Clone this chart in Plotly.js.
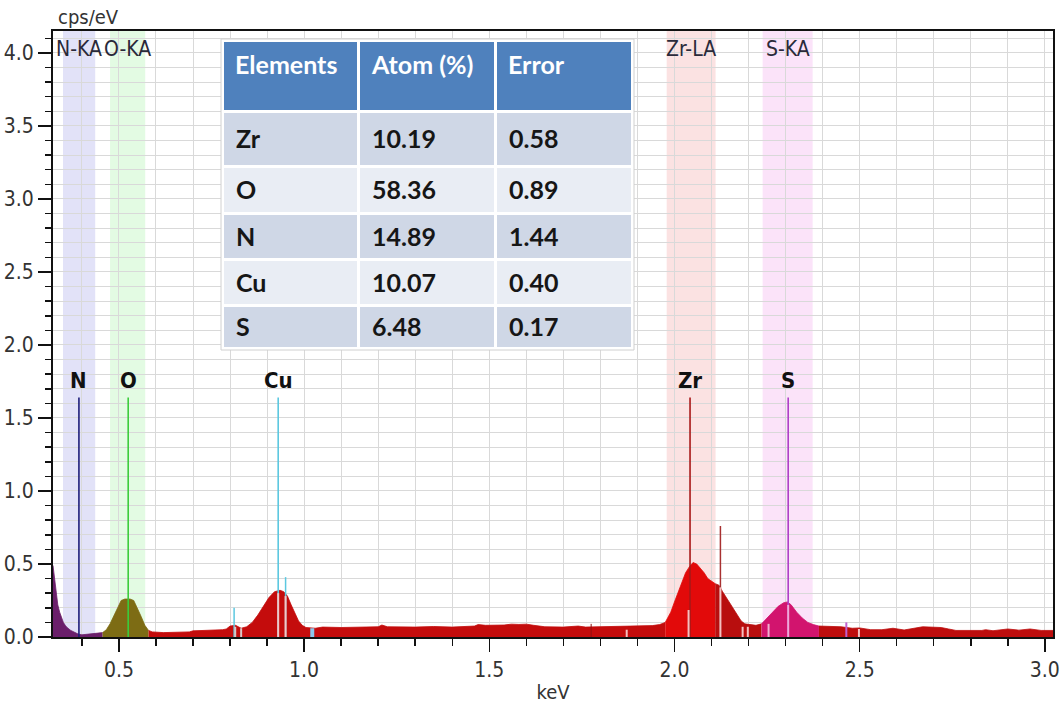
<!DOCTYPE html>
<html>
<head>
<meta charset="utf-8">
<script src="https://cdn.plot.ly/plotly-3.0.1.min.js"></script>
<style>
  html, body { margin: 0; padding: 0; background: #ffffff; }
  #chart { width: 1062px; height: 704px; }
</style>
</head>
<body>
<div id="chart"></div>
<script>
// EDS spectrum: energy (keV) and intensity (cps/eV)
const energy = [
  0.322, 0.326, 0.330, 0.335, 0.340, 0.345, 0.350, 0.355, 0.360, 0.370,
  0.380, 0.390, 0.400, 0.420, 0.440, 0.456, 0.466, 0.476, 0.486, 0.496,
  0.506, 0.516, 0.530, 0.540, 0.550, 0.560, 0.570, 0.580, 0.590, 0.620,
  0.660, 0.690, 0.700, 0.740, 0.760, 0.780, 0.790, 0.800, 0.815, 0.830,
  0.845, 0.860, 0.875, 0.890, 0.905, 0.920, 0.935, 0.945, 0.955, 0.965,
  0.975, 0.985, 0.995, 1.005, 1.030, 1.050, 1.100, 1.150, 1.200, 1.210,
  1.225, 1.300, 1.350, 1.400, 1.460, 1.470, 1.490, 1.540, 1.560, 1.580,
  1.600, 1.620, 1.650, 1.700, 1.740, 1.760, 1.850, 1.870, 1.900, 1.940,
  1.960, 1.975, 1.990, 2.000, 2.010, 2.020, 2.030, 2.040, 2.050, 2.060,
  2.070, 2.080, 2.090, 2.100, 2.110, 2.120, 2.130, 2.140, 2.150, 2.160,
  2.170, 2.180, 2.190, 2.200, 2.220, 2.235, 2.250, 2.265, 2.280, 2.295,
  2.305, 2.315, 2.330, 2.345, 2.360, 2.375, 2.390, 2.420, 2.450, 2.480,
  2.500, 2.530, 2.560, 2.590, 2.620, 2.670, 2.720, 2.740, 2.760, 2.830,
  2.840, 2.860, 2.900, 2.930, 2.960, 2.990, 3.022
];
const counts = [
  0.490, 0.400, 0.300, 0.220, 0.170, 0.130, 0.100, 0.080, 0.065, 0.045,
  0.030, 0.020, 0.015, 0.020, 0.025, 0.030, 0.050, 0.090, 0.140, 0.200,
  0.250, 0.260, 0.260, 0.250, 0.200, 0.140, 0.080, 0.045, 0.035, 0.030,
  0.032, 0.035, 0.042, 0.045, 0.050, 0.050, 0.055, 0.075, 0.080, 0.060,
  0.070, 0.100, 0.150, 0.210, 0.270, 0.310, 0.320, 0.310, 0.280, 0.220,
  0.160, 0.110, 0.080, 0.065, 0.060, 0.068, 0.065, 0.068, 0.070, 0.082,
  0.070, 0.068, 0.072, 0.068, 0.075, 0.085, 0.080, 0.082, 0.088, 0.086,
  0.088, 0.080, 0.070, 0.068, 0.075, 0.068, 0.072, 0.070, 0.075, 0.078,
  0.085, 0.100, 0.170, 0.240, 0.310, 0.380, 0.440, 0.480, 0.510, 0.500,
  0.470, 0.440, 0.400, 0.380, 0.365, 0.355, 0.310, 0.270, 0.230, 0.190,
  0.150, 0.110, 0.090, 0.085, 0.080, 0.090, 0.130, 0.170, 0.210, 0.235,
  0.240, 0.220, 0.170, 0.130, 0.100, 0.085, 0.075, 0.072, 0.070, 0.060,
  0.062, 0.050, 0.050, 0.060, 0.048, 0.070, 0.065, 0.055, 0.045, 0.045,
  0.050, 0.043, 0.055, 0.047, 0.055, 0.045, 0.045
];

// Colour zones of the filled spectrum (boundaries in keV)
const zoneBreaks = [0.322, 0.456, 0.580, 1.975, 2.110, 2.235, 2.390, 3.022];
const zoneColors = ['#6b1f6b', '#7d6c14', '#c40c0c', '#e20a0a', '#b80e0e', '#d2146e', '#bd0d0d'];

// Element windows shaded behind the spectrum
const bandNames = ['N-KA', 'O-KA', 'Zr-LA', 'S-KA'];
const bandStart = [0.349, 0.476, 1.979, 2.238];
const bandEnd   = [0.436, 0.571, 2.111, 2.373];
const bandColors = ['#e2e2f8', '#e3fbe3', '#fbe2e2', '#fbe3f9'];

// Element identification lines
const lineElements = ['N', 'O', 'Cu', 'Zr', 'S'];
const lineEnergy = [0.392, 0.525, 0.930, 2.042, 2.307];
const lineHeight = 1.64;
const lineColors = ['#1c1c7a', '#3ccc3c', '#5cc8e0', '#a81818', '#b040c8'];

// Minor family lines
const minorEnergy = [0.950, 0.811, 1.022, 2.124, 2.464, 1.775];
const minorHeight = [0.41, 0.20, 0.06, 0.76, 0.10, 0.09];
const minorColors = ['#5cc8e0', '#5cc8e0', '#8cc8ec', '#a83030', '#c060d0', '#901010'];
const minorWidths = [1.5, 1.5, 4, 1.5, 2, 1];

// Pale segments where lines cross the filled spectrum
const paleEnergy = [0.930, 0.950, 0.814, 0.830, 2.038, 2.124, 2.184, 2.198, 2.254, 2.307, 1.871, 2.498];
const paleHeight = [0.30, 0.28, 0.07, 0.06, 0.185, 0.34, 0.07, 0.07, 0.09, 0.22, 0.05, 0.055];
const paleColors = ['#f2c8c8', '#f2c8c8', '#d8c8c8', '#d8c8c8', '#f4c0c0', '#f4c0c0', '#f4c0c0', '#f4c0c0', '#f0b0d0', '#f0a8d8', '#f4c0c0', '#f4c0c0'];

// Quantification table
const tableHeader = ['Elements', 'Atom (%)', 'Error'];
const tableElements = ['Zr', 'O', 'N', 'Cu', 'S'];
const tableAtom = ['10.19', '58.36', '14.89', '10.07', '6.48'];
const tableError = ['0.58', '0.89', '1.44', '0.40', '0.17'];

const xTickVals = [0.5, 1.0, 1.5, 2.0, 2.5, 3.0];
const yTickVals = [0.0, 0.5, 1.0, 1.5, 2.0, 2.5, 3.0, 3.5, 4.0];

const narrow = 'Liberation Sans Narrow, DejaVu Sans Condensed, Arial Narrow, sans-serif';

// --- plot geometry (pixels) used for the overlay table ---
const W = 1062, H = 704;
const M = { l: 53, r: 9, t: 31, b: 67 };
const plotW = W - M.l - M.r, plotH = H - M.t - M.b;
const px = x => (x - M.l) / plotW;
const py = y => (H - M.b - y) / plotH;

const traces = [];

// filled spectrum, one trace per colour zone
for (let z = 0; z < zoneColors.length; z++) {
  const xs = [], ys = [];
  for (let i = 0; i < energy.length; i++) {
    if (energy[i] >= zoneBreaks[z] - 1e-9 && energy[i] <= zoneBreaks[z + 1] + 1e-9) {
      xs.push(energy[i]); ys.push(counts[i]);
    }
  }
  traces.push({
    type: 'scatter', mode: 'lines', x: xs, y: ys,
    fill: 'tozeroy', fillcolor: zoneColors[z],
    line: { color: zoneColors[z], width: 0.8 },
    hoverinfo: 'skip', showlegend: false
  });
}

// element lines
lineEnergy.forEach((e, i) => {
  traces.push({
    type: 'scatter', mode: 'lines', x: [e, e], y: [0, lineHeight],
    line: { color: lineColors[i], width: 1.6 },
    hoverinfo: 'skip', showlegend: false
  });
});
minorEnergy.forEach((e, i) => {
  traces.push({
    type: 'scatter', mode: 'lines', x: [e, e], y: [0, minorHeight[i]],
    line: { color: minorColors[i], width: minorWidths[i] },
    hoverinfo: 'skip', showlegend: false
  });
});
paleEnergy.forEach((e, i) => {
  traces.push({
    type: 'scatter', mode: 'lines', x: [e, e], y: [0, paleHeight[i]],
    line: { color: paleColors[i], width: 2 },
    hoverinfo: 'skip', showlegend: false
  });
});

const shapes = [];
const annotations = [];

// shaded element windows
bandNames.forEach((name, i) => {
  shapes.push({
    type: 'rect', xref: 'x', yref: 'paper', layer: 'below',
    x0: bandStart[i], x1: bandEnd[i], y0: 0, y1: 1,
    fillcolor: bandColors[i], line: { width: 0 }
  });
  annotations.push({
    xref: 'x', yref: 'paper', x: (bandStart[i] + bandEnd[i]) / 2, y: 1,
    yanchor: 'top', yshift: -4, showarrow: false, text: name,
    font: { family: narrow, size: 21, color: '#2a2a3a' }
  });
});

// element labels above the lines
lineElements.forEach((el, i) => {
  annotations.push({
    xref: 'x', yref: 'y', x: lineEnergy[i], y: lineHeight,
    yanchor: 'bottom', yshift: 3, showarrow: false, text: '<b>' + el + '</b>',
    font: { family: narrow, size: 22, color: '#111111' }
  });
});

// unit label above the y axis
annotations.push({
  xref: 'paper', yref: 'paper', x: px(88), y: py(17), xanchor: 'center', yanchor: 'middle',
  showarrow: false, text: 'cps/eV', font: { family: narrow, size: 20, color: '#333333' }
});

// quantification table
const colEdges = [[224, 357], [360, 494], [497, 631]];
const headerBox = [42, 110];
const rowBoxes = [[113, 165], [168, 212], [215, 258], [261, 304], [307, 347]];
const rowFills = ['#cfd7e6', '#e9edf4', '#cfd7e6', '#e9edf4', '#cfd7e6'];
const textPad = 10;
const tableFont = 'Lato, Open Sans, sans-serif';

shapes.push({
  type: 'rect', xref: 'paper', yref: 'paper', layer: 'above',
  x0: px(221), x1: px(634), y0: py(39), y1: py(350),
  fillcolor: '#ffffff', line: { color: '#d0d0d0', width: 1 }
});
colEdges.forEach((c, j) => {
  shapes.push({
    type: 'rect', xref: 'paper', yref: 'paper', layer: 'above',
    x0: px(c[0]), x1: px(c[1]), y0: py(headerBox[0]), y1: py(headerBox[1]),
    fillcolor: '#4f81bd', line: { width: 0 }
  });
  annotations.push({
    xref: 'paper', yref: 'paper', x: px(c[0] + textPad - 1), y: py(64),
    xanchor: 'left', yanchor: 'middle', showarrow: false,
    text: '<b>' + tableHeader[j] + '</b>',
    font: { family: tableFont, size: 25, color: '#ffffff' }
  });
  rowBoxes.forEach((r, i) => {
    shapes.push({
      type: 'rect', xref: 'paper', yref: 'paper', layer: 'above',
      x0: px(c[0]), x1: px(c[1]), y0: py(r[0]), y1: py(r[1]),
      fillcolor: rowFills[i], line: { width: 0 }
    });
  });
});
const columns = [tableElements, tableAtom, tableError];
columns.forEach((col, j) => {
  col.forEach((val, i) => {
    const r = rowBoxes[i];
    annotations.push({
      xref: 'paper', yref: 'paper', x: px(colEdges[j][0] + textPad), y: py((r[0] + r[1]) / 2 - 1),
      xanchor: 'left', yanchor: 'middle', showarrow: false,
      text: '<b>' + val + '</b>',
      font: { family: tableFont, size: 25, color: '#161616' }
    });
  });
});

const gridColor = '#d9d9d9';
const layout = {
  width: W, height: H,
  margin: M,
  paper_bgcolor: '#ffffff', plot_bgcolor: '#ffffff',
  showlegend: false,
  xaxis: {
    range: [0.322, 3.022],
    tickvals: xTickVals, ticktext: xTickVals.map(v => v.toFixed(1)),
    ticks: 'outside', ticklen: 13, tickwidth: 1.5, tickcolor: '#111111',
    showgrid: true, gridcolor: gridColor, gridwidth: 1,
    minor: { dtick: 0.1, tick0: 0, ticks: 'outside', ticklen: 7, tickwidth: 1.5, tickcolor: '#111111', showgrid: true, gridcolor: gridColor, gridwidth: 1 },
    showline: true, linecolor: '#111111', linewidth: 2, mirror: true,
    zeroline: false,
    tickfont: { family: narrow, size: 21, color: '#333333' },
    title: { text: 'keV', standoff: 4, font: { family: narrow, size: 20, color: '#333333' } }
  },
  yaxis: {
    range: [0, 4.15],
    tickvals: yTickVals, ticktext: yTickVals.map(v => v.toFixed(1)),
    ticks: 'outside', ticklen: 13, tickwidth: 1.5, tickcolor: '#111111',
    showgrid: true, gridcolor: gridColor, gridwidth: 1,
    minor: { dtick: 0.1, tick0: 0, ticks: 'outside', ticklen: 6, tickwidth: 1.5, tickcolor: '#111111', showgrid: true, gridcolor: gridColor, gridwidth: 1 },
    showline: true, linecolor: '#111111', linewidth: 2, mirror: true,
    zeroline: false,
    tickfont: { family: narrow, size: 21, color: '#333333' }
  },
  shapes: shapes,
  annotations: annotations
};

Plotly.newPlot('chart', traces, layout, { staticPlot: true, displayModeBar: false });
</script>
</body>
</html>
